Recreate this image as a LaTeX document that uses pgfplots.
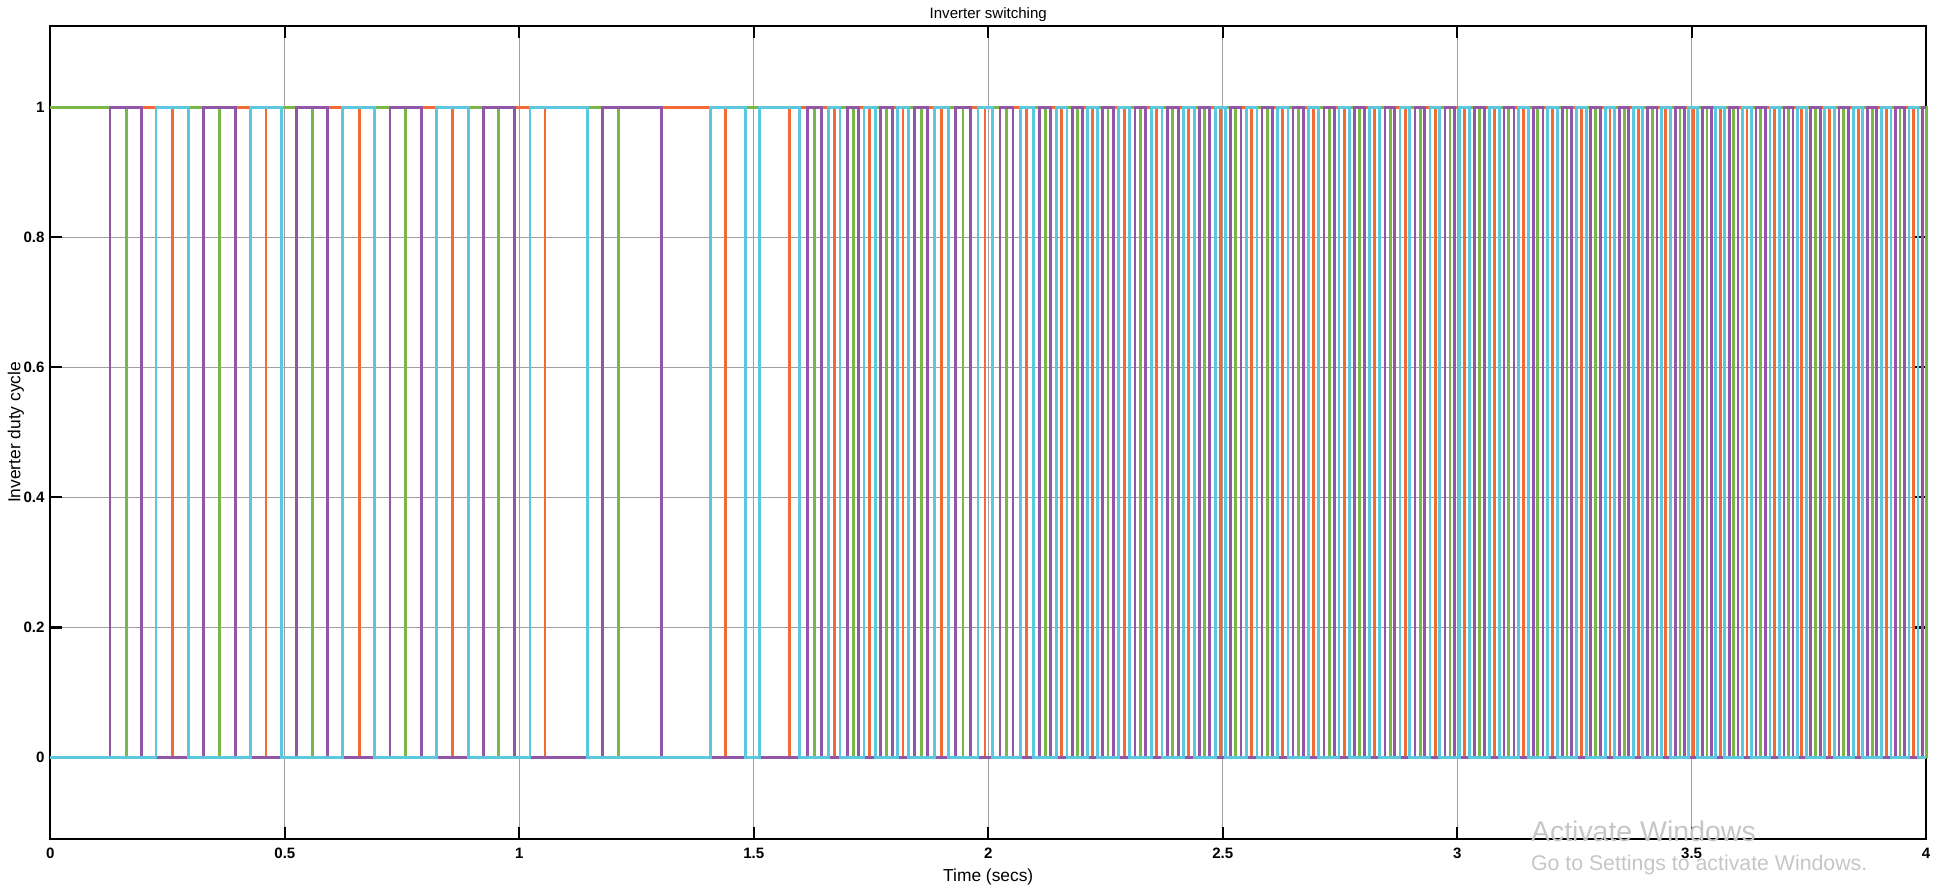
\documentclass[border=0pt]{standalone}
\usepackage{pgfplots}
\pgfplotsset{compat=1.18}
\usepackage{pgfplotstable}
\usepackage{fontspec}
\setmainfont{Liberation Sans}

\definecolor{sgreen}{RGB}{122,182,72}
\definecolor{sorange}{RGB}{242,106,53}
\definecolor{spurple}{RGB}{146,86,168}
\definecolor{scyan}{RGB}{92,200,224}

% switching events: time, then state of green, orange, purple, cyan after the event
\pgfplotstableread{
t g o p c
0.000 1 0 0 0
0.127 1 0 1 0
0.163 0 0 1 0
0.195 0 1 0 0
0.225 0 1 0 1
0.261 0 0 0 1
0.294 1 0 0 0
0.327 1 0 1 0
0.360 0 0 1 0
0.394 0 1 0 0
0.426 0 1 0 1
0.460 0 0 0 1
0.493 1 0 0 0
0.525 1 0 1 0
0.559 0 0 1 0
0.591 0 1 0 0
0.623 0 1 0 1
0.659 0 0 0 1
0.691 1 0 0 0
0.724 1 0 1 0
0.758 0 0 1 0
0.792 0 1 0 0
0.824 0 1 0 1
0.858 0 0 0 1
0.891 1 0 0 0
0.923 1 0 1 0
0.956 0 0 1 0
0.989 0 1 0 0
1.023 0 1 0 1
1.055 0 0 0 1
1.146 1 0 0 0
1.178 1 0 1 0
1.212 0 0 1 0
1.304 0 1 0 0
1.407 0 1 0 1
1.439 0 0 0 1
1.483 1 0 0 0
1.512 0 0 0 1
1.576 0 1 0 1
1.597 0 1 0 0
1.615 0 0 1 0
1.629 1 0 1 0
1.645 0 1 0 0
1.659 0 1 0 1
1.672 0 0 0 1
1.684 1 0 0 0
1.700 1 0 1 0
1.712 0 0 1 0
1.724 0 1 0 0
1.735 0 1 0 1
1.747 0 0 0 1
1.759 1 0 0 0
1.771 1 0 1 0
1.783 0 0 1 0
1.795 0 1 0 0
1.806 0 1 0 1
1.818 0 0 0 1
1.830 1 0 0 0
1.842 1 0 1 0
1.857 0 0 1 0
1.871 0 1 0 0
1.886 0 1 0 1
1.901 0 0 0 1
1.915 1 0 0 0
1.930 1 0 1 0
1.946 0 0 1 0
1.962 0 1 0 0
1.978 0 1 0 1
1.993 0 0 0 1
2.009 1 0 0 0
2.025 1 0 1 0
2.039 0 0 1 0
2.053 0 1 0 0
2.068 0 1 0 1
2.082 0 0 0 1
2.096 1 0 0 0
2.110 1 0 1 0
2.122 0 0 1 0
2.133 0 1 0 0
2.145 0 1 0 1
2.157 0 0 0 1
2.168 1 0 0 0
2.180 1 0 1 0
2.191 0 0 1 0
2.201 0 1 0 0
2.212 0 1 0 1
2.223 0 0 0 1
2.233 1 0 0 0
2.244 1 0 1 0
2.2555 0 0 1 0
2.267 0 1 0 0
2.2785 0 1 0 1
2.290 0 0 0 1
2.3015 1 0 0 0
2.313 1 0 1 0
2.3245 0 0 1 0
2.336 0 1 0 0
2.3475 0 1 0 1
2.359 0 0 0 1
2.3705 1 0 0 0
2.382 1 0 1 0
2.393 0 0 1 0
2.405 0 1 0 0
2.416 0 1 0 1
2.427 0 0 0 1
2.439 1 0 0 0
2.450 1 0 1 0
2.461 0 0 1 0
2.472 0 1 0 0
2.484 0 1 0 1
2.495 0 0 0 1
2.506 1 0 0 0
2.517 1 0 1 0
2.528 0 0 1 0
2.539 0 1 0 0
2.551 0 1 0 1
2.562 0 0 0 1
2.573 1 0 0 0
2.584 1 0 1 0
2.595 0 0 1 0
2.606 0 1 0 0
2.617 0 1 0 1
2.628 0 0 0 1
2.639 1 0 0 0
2.650 1 0 1 0
2.661 0 0 1 0
2.672 0 1 0 0
2.683 0 1 0 1
2.694 0 0 0 1
2.705 1 0 0 0
2.716 1 0 1 0
2.727 0 0 1 0
2.738 0 1 0 0
2.748 0 1 0 1
2.759 0 0 0 1
2.770 1 0 0 0
2.781 1 0 1 0
2.792 0 0 1 0
2.803 0 1 0 0
2.813 0 1 0 1
2.824 0 0 0 1
2.835 1 0 0 0
2.846 1 0 1 0
2.857 0 0 1 0
2.867 0 1 0 0
2.878 0 1 0 1
2.889 0 0 0 1
2.899 1 0 0 0
2.910 1 0 1 0
2.921 0 0 1 0
2.931 0 1 0 0
2.942 0 1 0 1
2.953 0 0 0 1
2.963 1 0 0 0
2.974 1 0 1 0
2.9845 0 0 1 0
2.995 0 1 0 0
3.0055 0 1 0 1
3.016 0 0 0 1
3.0265 1 0 0 0
3.037 1 0 1 0
3.0475 0 0 1 0
3.058 0 1 0 0
3.0685 0 1 0 1
3.079 0 0 0 1
3.0895 1 0 0 0
3.100 1 0 1 0
3.110 0 0 1 0
3.121 0 1 0 0
3.131 0 1 0 1
3.141 0 0 0 1
3.152 1 0 0 0
3.162 1 0 1 0
3.172 0 0 1 0
3.183 0 1 0 0
3.193 0 1 0 1
3.203 0 0 0 1
3.214 1 0 0 0
3.224 1 0 1 0
3.234 0 0 1 0
3.244 0 1 0 0
3.255 0 1 0 1
3.265 0 0 0 1
3.275 1 0 0 0
3.285 1 0 1 0
3.295 0 0 1 0
3.305 0 1 0 0
3.316 0 1 0 1
3.326 0 0 0 1
3.336 1 0 0 0
3.346 1 0 1 0
3.356 0 0 1 0
3.366 0 1 0 0
3.376 0 1 0 1
3.386 0 0 0 1
3.396 1 0 0 0
3.406 1 0 1 0
3.416 0 0 1 0
3.426 0 1 0 0
3.435 0 1 0 1
3.445 0 0 0 1
3.455 1 0 0 0
3.465 1 0 1 0
3.475 0 0 1 0
3.484 0 1 0 0
3.494 0 1 0 1
3.504 0 0 0 1
3.513 1 0 0 0
3.523 1 0 1 0
3.5325 0 0 1 0
3.542 0 1 0 0
3.5515 0 1 0 1
3.561 0 0 0 1
3.5705 1 0 0 0
3.580 1 0 1 0
3.5895 0 0 1 0
3.599 0 1 0 0
3.6085 0 1 0 1
3.618 0 0 0 1
3.6275 1 0 0 0
3.637 1 0 1 0
3.647 0 0 1 0
3.657 0 1 0 0
3.667 0 1 0 1
3.677 0 0 0 1
3.687 1 0 0 0
3.697 1 0 1 0
3.7065 0 0 1 0
3.716 0 1 0 0
3.7255 0 1 0 1
3.735 0 0 0 1
3.7445 1 0 0 0
3.754 1 0 1 0
3.764 0 0 1 0
3.774 0 1 0 0
3.784 0 1 0 1
3.794 0 0 0 1
3.804 1 0 0 0
3.814 1 0 1 0
3.824 0 0 1 0
3.834 0 1 0 0
3.845 0 1 0 1
3.855 0 0 0 1
3.865 1 0 0 0
3.875 1 0 1 0
3.885 0 0 1 0
3.895 0 1 0 0
3.905 0 1 0 1
3.915 0 0 0 1
3.925 1 0 0 0
3.935 1 0 1 0
3.9445 0 0 1 0
3.954 0 1 0 0
3.9635 0 1 0 1
3.973 0 0 0 1
3.9825 1 0 0 0
3.992 1 0 1 0
4.000 0 0 1 0
}\events

\begin{document}
\begin{tikzpicture}
\begin{axis}[
    scale only axis,
    width=810pt, height=351pt,
    xmin=0, xmax=4, ymin=-0.125, ymax=1.125,
    xtick={0,0.5,...,4},
    ytick={0,0.2,0.4,0.6,0.8,1},
    grid=major,
    major grid style={gray!75, line width=0.45pt},
    axis line style={black, line width=0.9pt},
    tick align=inside,
    major tick length=5pt,
    tick style={black, line width=0.9pt},
    tick label style={font=\fontsize{6.5}{7}\selectfont\bfseries},
    yticklabel style={xshift=1pt},
    xticklabel style={yshift=-0.5pt},
    /pgf/number format/assume math mode=true,
    title={Inverter switching},
    title style={font=\fontsize{6.5}{7}\selectfont, yshift=-7.7pt},
    xlabel={Time (secs)},
    ylabel={Inverter duty cycle},
    label style={font=\fontsize{7.5}{8}\selectfont},
    xlabel style={yshift=2.5pt},
    ylabel style={yshift=-7pt},
    clip=false,
]
\addplot[const plot, color=sgreen, line width=1.2pt] table[x=t, y=g] {\events};
\addplot[const plot, color=sorange, line width=1.2pt] table[x=t, y=o] {\events};
\addplot[const plot, color=spurple, line width=1.2pt] table[x=t, y=p] {\events};
\addplot[const plot, color=scyan, line width=1.2pt] table[x=t, y=c] {\events};
\node[anchor=west, text=gray!45, font=\fontsize{12.3}{13}\selectfont] at (axis cs:3.14,-0.113) {Activate Windows};
\node[anchor=west, text=gray!45, font=\fontsize{9.2}{10}\selectfont] at (axis cs:3.14,-0.165) {Go to Settings to activate Windows.};
\end{axis}
\end{tikzpicture}
\end{document}
